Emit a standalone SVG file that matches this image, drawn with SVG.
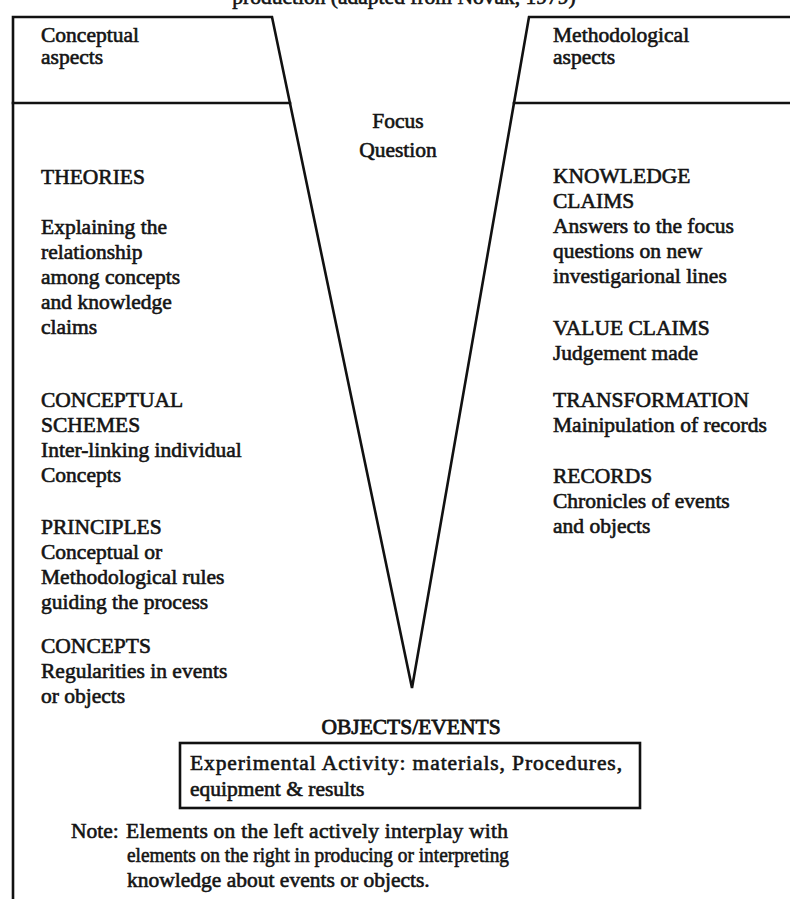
<svg xmlns="http://www.w3.org/2000/svg" width="790" height="899" viewBox="0 0 790 899">
<style>
  .t { font-family: "Liberation Serif", "Times New Roman", serif; font-size: 21.5px; fill: #141414; stroke: #141414; stroke-width: 0.6; }
  .c { text-anchor: middle; }
  .ln { stroke: #111; stroke-width: 2.6; fill: none; stroke-linecap: square; stroke-linejoin: miter; }
</style>
<rect width="790" height="899" fill="#ffffff"/>
<g id="caption">
  <text class="t c" x="404" y="4">production (adapted from Novak, 1979)</text>
</g>
<g id="connectors">
  <polyline class="ln" points="13,899 13,17 272,17 412,688 529,17 790,17"/>
  <line class="ln" x1="13" y1="103" x2="290" y2="103"/>
  <line class="ln" x1="514" y1="103" x2="790" y2="103"/>
</g>
<g id="conceptual-aspects">
  <text class="t" x="41" y="42">Conceptual</text>
  <text class="t" x="41" y="64">aspects</text>
</g>
<g id="methodological-aspects">
  <text class="t" x="553" y="42">Methodological</text>
  <text class="t" x="553" y="64">aspects</text>
</g>
<g id="focus-question">
  <text class="t c" x="398" y="128">Focus</text>
  <text class="t c" x="398" y="157">Question</text>
</g>
<g id="theories">
  <text class="t" x="41" y="184">THEORIES</text>
  <text class="t" x="41" y="234">Explaining the</text>
  <text class="t" x="41" y="259">relationship</text>
  <text class="t" x="41" y="284">among concepts</text>
  <text class="t" x="41" y="309">and knowledge</text>
  <text class="t" x="41" y="334">claims</text>
</g>
<g id="conceptual-schemes">
  <text class="t" x="41" y="407">CONCEPTUAL</text>
  <text class="t" x="41" y="432">SCHEMES</text>
  <text class="t" x="41" y="457">Inter-linking individual</text>
  <text class="t" x="41" y="482">Concepts</text>
</g>
<g id="principles">
  <text class="t" x="41" y="534">PRINCIPLES</text>
  <text class="t" x="41" y="559">Conceptual or</text>
  <text class="t" x="41" y="584">Methodological rules</text>
  <text class="t" x="41" y="609">guiding the process</text>
</g>
<g id="concepts">
  <text class="t" x="41" y="653">CONCEPTS</text>
  <text class="t" x="41" y="678">Regularities in events</text>
  <text class="t" x="41" y="703">or objects</text>
</g>
<g id="knowledge-claims">
  <text class="t" x="553" y="183">KNOWLEDGE</text>
  <text class="t" x="553" y="208">CLAIMS</text>
  <text class="t" x="553" y="233">Answers to the focus</text>
  <text class="t" x="553" y="258">questions on new</text>
  <text class="t" x="553" y="283">investigarional lines</text>
</g>
<g id="value-claims">
  <text class="t" x="553" y="335">VALUE CLAIMS</text>
  <text class="t" x="553" y="360">Judgement made</text>
</g>
<g id="transformation">
  <text class="t" x="553" y="407">TRANSFORMATION</text>
  <text class="t" x="553" y="432">Mainipulation of records</text>
</g>
<g id="records">
  <text class="t" x="553" y="483">RECORDS</text>
  <text class="t" x="553" y="508">Chronicles of events</text>
  <text class="t" x="553" y="533">and objects</text>
</g>
<g id="objects-events">
  <text class="t c" x="411" y="734" style="stroke-width:0.8">OBJECTS/EVENTS</text>
  <rect class="ln" x="180" y="743" width="460" height="65"/>
  <text class="t" x="190" y="770" textLength="432" lengthAdjust="spacing">Experimental Activity: materials, Procedures,</text>
  <text class="t" x="190" y="796">equipment &amp; results</text>
</g>
<g id="note">
  <text class="t" x="71" y="838">Note:</text>
  <text class="t" x="126" y="838" textLength="382" lengthAdjust="spacing">Elements on the left actively interplay with</text>
  <text class="t" x="127" y="862" textLength="382" lengthAdjust="spacingAndGlyphs">elements on the right in producing or interpreting</text>
  <text class="t" x="127" y="887">knowledge about events or objects.</text>
</g>
</svg>
